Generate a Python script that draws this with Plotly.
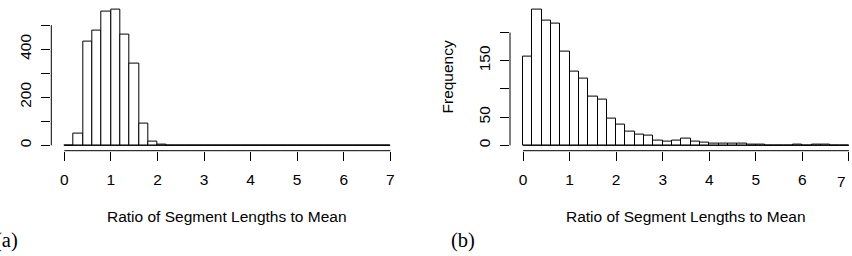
import plotly.graph_objects as go

# ---- data ----
bin_edges = [round(i * 0.2, 1) for i in range(36)]  # 0.0 .. 7.0
counts_a = [0, 50, 430, 478, 558, 563, 462, 342, 91, 17, 3, 0, 0, 0, 0, 0, 0, 0,
            0, 0, 0, 0, 0, 0, 0, 0, 0, 0, 0, 0, 0, 0, 0, 0, 0]
counts_b = [158, 240, 222, 216, 167, 130, 119, 87, 81, 48, 37, 25, 19, 17,
            9, 7, 9, 11, 7, 4, 3, 3, 3, 3, 2, 1, 0, 0, 0, 1, 0, 1, 1, 0, 0]
x_ticks = [0, 1, 2, 3, 4, 5, 6, 7]
y_ticks_a = [0, 100, 200, 300, 400, 500]
y_labels_a = ["0", "", "200", "", "400", ""]
y_ticks_b = [0, 50, 100, 150, 200]
y_labels_b = ["0", "50", "", "150", ""]
x_title = "Ratio of Segment Lengths to Mean"
y_title_b = "Frequency"
panel_labels = ["(a)", "(b)"]

W, H = 852, 256
FONT = "Liberation Sans, Arial, Helvetica, sans-serif"
FS = 15.5

centers = [(bin_edges[i] + bin_edges[i + 1]) / 2 for i in range(len(bin_edges) - 1)]
widths = [bin_edges[i + 1] - bin_edges[i] for i in range(len(bin_edges) - 1)]

def px_x(p):
    return p / W

def px_y(p):
    return 1 - p / H

ydom = [px_y(150.7), px_y(4.6)]
xdom_a = [px_x(51.3), px_x(403.3)]
xdom_b = [px_x(510.0), 1.0]

# right panel: x=0 at pixel 523, 46.57 px per unit
X0_B, SCALE_B = 523.0, 46.57
xr_b = [(510.0 - X0_B) / SCALE_B, (852.0 - X0_B) / SCALE_B]

fig = go.Figure()
bar_style = dict(marker=dict(color="white", line=dict(color="black", width=1)), showlegend=False,
                 hoverinfo="skip")
fig.add_trace(go.Bar(x=centers, y=counts_a, width=widths, xaxis="x", yaxis="y", **bar_style))
fig.add_trace(go.Bar(x=centers, y=counts_b, width=widths, xaxis="x2", yaxis="y2", **bar_style))

ymax_a = max(counts_a)
ymax_b = max(counts_b)

axis_common = dict(showgrid=False, zeroline=False, showline=False, ticks="outside",
                   ticklen=9, tickwidth=1, tickcolor="black", ticklabeloverflow="allow",
                   tickfont=dict(family=FONT, size=FS, color="black"))

x_labels_a = [str(t) for t in x_ticks]
# last label of right panel sits on the page edge; drawn as annotation below
x_labels_b = [str(t) for t in x_ticks[:-1]] + [""]

fig.update_layout(
    width=W, height=H, margin=dict(l=0, r=0, t=0, b=0),
    paper_bgcolor="white", plot_bgcolor="white", bargap=0,
    xaxis=dict(domain=xdom_a, range=[-0.28, 7.28], anchor="y", tickvals=x_ticks,
               ticktext=x_labels_a, ticklabelstandoff=6, **axis_common),
    yaxis=dict(domain=ydom, range=[-0.04 * ymax_a, 1.04 * ymax_a], anchor="x",
               tickvals=y_ticks_a, ticktext=y_labels_a, tickangle=-90,
               ticklabelstandoff=4, **axis_common),
    xaxis2=dict(domain=xdom_b, range=xr_b, anchor="y2", tickvals=x_ticks,
                ticktext=x_labels_b, ticklabelstandoff=6, **axis_common),
    yaxis2=dict(domain=ydom, range=[-0.04 * ymax_b, 1.04 * ymax_b], anchor="x2",
                tickvals=y_ticks_b, ticktext=y_labels_b, tickangle=-90,
                ticklabelstandoff=4, **axis_common),
)

# R-style detached axis lines and histogram baselines
shapes = []
for xa, ya, yt in [("x", "y", y_ticks_a), ("x2", "y2", y_ticks_b)]:
    dom = fig.layout[("xaxis" if xa == "x" else "xaxis2")].domain
    shapes.append(dict(type="line", xref=xa, yref="paper", x0=x_ticks[0], x1=x_ticks[-1],
                       y0=ydom[0], y1=ydom[0], line=dict(color="black", width=1)))
    shapes.append(dict(type="line", xref="paper", yref=ya, x0=dom[0], x1=dom[0],
                       y0=yt[0], y1=yt[-1], line=dict(color="black", width=1)))
    shapes.append(dict(type="line", xref=xa, yref=ya, x0=bin_edges[0], x1=bin_edges[-1],
                       y0=0, y1=0, line=dict(color="black", width=1)))
fig.update_layout(shapes=shapes)

ann = []
ann.append(dict(text=str(x_ticks[-1]), x=px_x(848.0), xref="paper", y=px_y(181.0), yref="paper",
                xanchor="right", yanchor="middle", showarrow=False,
                font=dict(family=FONT, size=FS, color="black")))
for cx in [227.3, 686.0]:
    ann.append(dict(text=x_title, x=px_x(cx), y=px_y(216.7), xref="paper", yref="paper",
                    xanchor="center", yanchor="middle", showarrow=False,
                    font=dict(family=FONT, size=FS, color="black")))
ann.append(dict(text=y_title_b, x=px_x(447.0), y=px_y(77.5), xref="paper", yref="paper",
                xanchor="center", yanchor="middle", showarrow=False, textangle=-90,
                font=dict(family=FONT, size=FS, color="black")))
ann.append(dict(text=panel_labels[0], x=px_x(-7.0), y=px_y(240.0), xref="paper", yref="paper",
                xanchor="left", yanchor="middle", showarrow=False,
                font=dict(family="Liberation Serif, Times New Roman, serif", size=20.5, color="black")))
ann.append(dict(text=panel_labels[1], x=px_x(448.7), y=px_y(240.0), xref="paper", yref="paper",
                xanchor="left", yanchor="middle", showarrow=False,
                font=dict(family="Liberation Serif, Times New Roman, serif", size=20.5, color="black")))
fig.update_layout(annotations=ann)

fig.write_html("out.html")
